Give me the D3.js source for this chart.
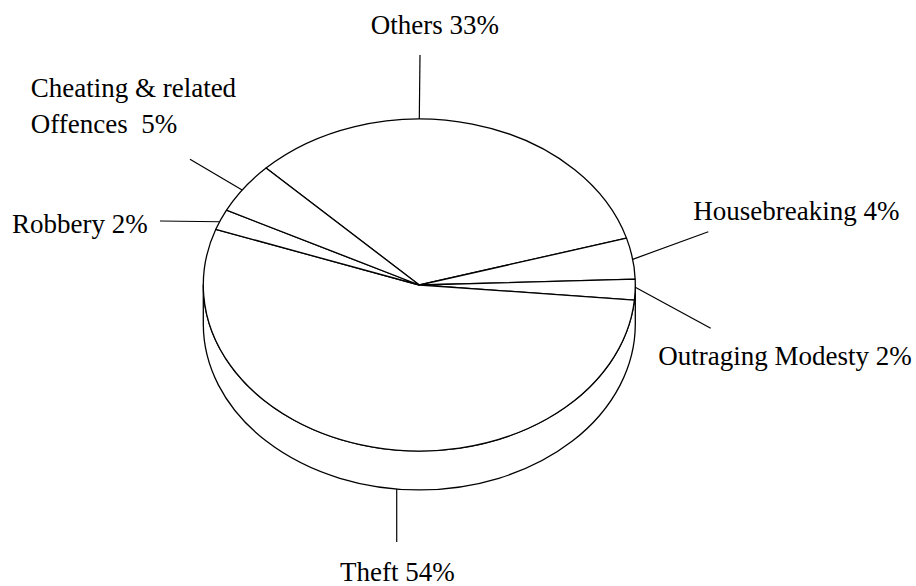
<!DOCTYPE html>
<html>
<head>
<meta charset="utf-8">
<script src="https://cdn.jsdelivr.net/npm/d3@7"></script>
<style>
  html, body { margin: 0; padding: 0; background: #fff; }
  svg text { font-family: "Liberation Serif", "Times New Roman", serif; font-size: 27px; fill: #000; white-space: pre; }
</style>
</head>
<body>
<svg id="chart" width="916" height="586"></svg>
<script>
// Offence categories, clockwise from the top of the pie
const categories = ["Others", "Housebreaking", "Outraging Modesty", "Theft", "Robbery", "Cheating & related Offences"];
const shares = [33, 4, 2, 54, 2, 5];
// How each category name is broken into label lines (share is appended to the last line)
const nameLines = [["Others"], ["Housebreaking"], ["Outraging Modesty"], ["Theft"], ["Robbery"], ["Cheating & related", "Offences "]];

// Label placement: text origin, leader outer end, leader angle on the rim (deg, clockwise from top)
const labelLayout = [
  { tx: 370.7, ty: 34,  ox: 420,   oy: 55,    angle: 0,     rim: "top" },
  { tx: 693.3, ty: 219.5, ox: 708.3, oy: 231.7, angle: 81.1,  rim: "top" },
  { tx: 658.3, ty: 365,  ox: 710.7, oy: 328.3, angle: 90.8,  rim: "top" },
  { tx: 340,   ty: 581,  ox: 396.7, oy: 542,   angle: 186,   rim: "bottom" },
  { tx: 12,    ty: 233.3, ox: 160,   oy: 221,   angle: 292.4, rim: "top" },
  { tx: 30.7,  ty: 96.7, ox: 190,   oy: 159.3, angle: 304.9, rim: "top" }
];

const svg = d3.select("#chart");
const cx = 419.3, cy = 285, rx = 216, ry = 166, depth = 39;
const toRad = d => d * Math.PI / 180;

// Point on the top (or bottom) rim at a d3-style angle
function rimPoint(a, bottom) {
  return [cx + rx * Math.sin(a), cy - ry * Math.cos(a) + (bottom ? depth : 0)];
}

// Side wall: the visible front half of the cylinder
const side = d3.path();
side.moveTo(cx - rx, cy);
side.lineTo(cx - rx, cy + depth);
const wall = `${side.toString()} A ${rx} ${ry} 0 0 0 ${cx + rx} ${cy + depth} L ${cx + rx} ${cy} A ${rx} ${ry} 0 0 1 ${cx - rx} ${cy} Z`;
svg.append("path")
  .attr("d", wall)
  .attr("fill", "#fff")
  .attr("stroke", "#000")
  .attr("stroke-width", 1.3)
  .attr("stroke-linejoin", "round");

// Top face slices
const pie = d3.pie().sort(null).value(d => d).startAngle(toRad(-45.2)).endAngle(toRad(-45.2) + 2 * Math.PI);
const arcs = pie(shares);
const arc = d3.arc().innerRadius(0).outerRadius(ry);

svg.append("g")
  .attr("transform", `translate(${cx},${cy}) scale(${rx / ry},1)`)
  .selectAll("path")
  .data(arcs)
  .join("path")
  .attr("d", arc)
  .attr("fill", "#fff")
  .attr("stroke", "#000")
  .attr("stroke-width", 1.3)
  .attr("stroke-linejoin", "round")
  .attr("vector-effect", "non-scaling-stroke");

// Leader lines
svg.append("g")
  .selectAll("line")
  .data(labelLayout)
  .join("line")
  .attr("x1", d => d.ox)
  .attr("y1", d => d.oy)
  .attr("x2", d => rimPoint(toRad(d.angle), d.rim === "bottom")[0])
  .attr("y2", d => rimPoint(toRad(d.angle), d.rim === "bottom")[1])
  .attr("stroke", "#000")
  .attr("stroke-width", 1.2);

// Labels
const labels = svg.append("g")
  .selectAll("text")
  .data(categories)
  .join("text")
  .attr("x", (d, i) => labelLayout[i].tx)
  .attr("y", (d, i) => labelLayout[i].ty);

labels.each(function (d, i) {
  const lines = nameLines[i].slice();
  lines[lines.length - 1] = lines[lines.length - 1] + " " + shares[i] + "%";
  d3.select(this).selectAll("tspan")
    .data(lines)
    .join("tspan")
    .attr("x", labelLayout[i].tx)
    .attr("dy", (l, j) => j === 0 ? 0 : 36.6)
    .text(l => l);
});
</script>
</body>
</html>
